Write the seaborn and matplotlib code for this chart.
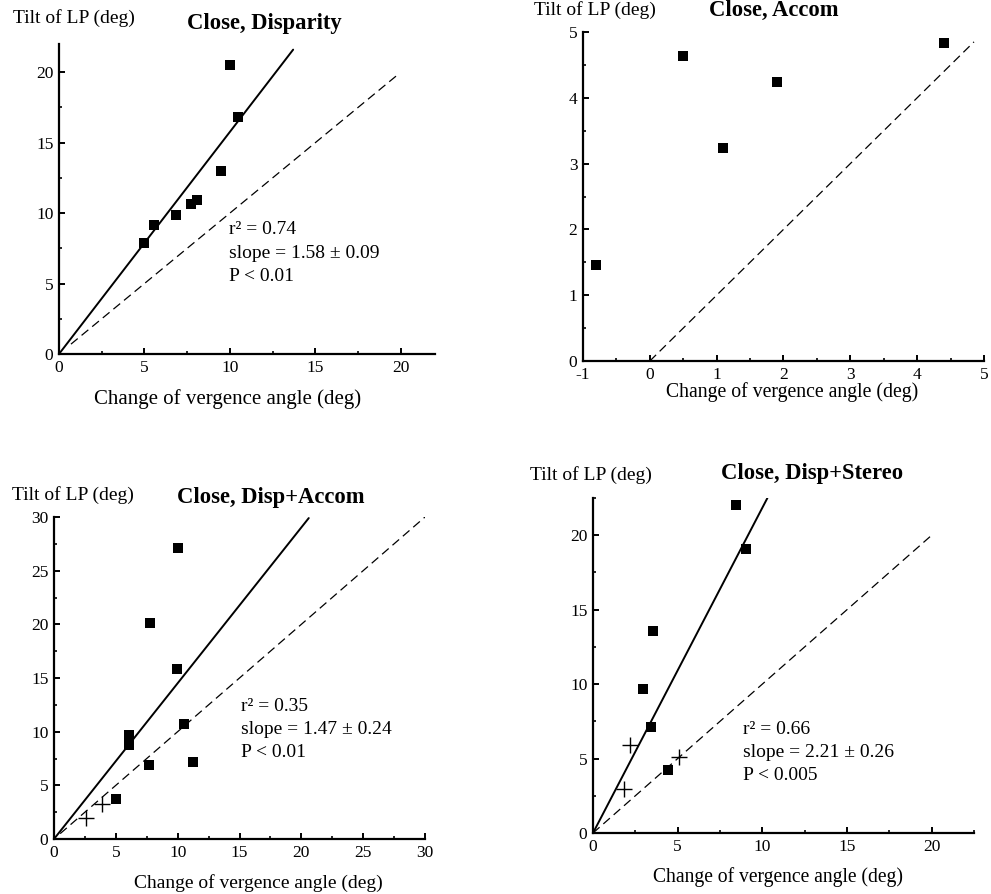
import matplotlib
matplotlib.use("Agg")
import matplotlib.pyplot as plt
from matplotlib.ticker import MultipleLocator
import seaborn as sns

# data
disp_x = [4.95, 5.55, 6.85, 7.75, 8.1, 9.5, 10.0, 10.5]
disp_y = [7.9, 9.15, 9.9, 10.65, 10.9, 13.0, 20.5, 16.85]
disp_fit_x = [0, 13.7]
disp_fit_y = [0, 21.6]
disp_unit = [0.7, 19.9]

accom_x = [-0.8, 0.5, 1.1, 1.9, 4.4]
accom_y = [1.46, 4.64, 3.24, 4.24, 4.84]
accom_unit = [0, 4.85]

dacc_x = [10.0, 7.8, 9.95, 6.05, 6.1, 10.55, 7.65, 11.2, 5.0]
dacc_y = [27.1, 20.1, 15.85, 9.65, 8.75, 10.7, 6.85, 7.15, 3.7]
dacc_cross_x = [2.6, 3.85]
dacc_cross_y = [1.95, 3.3]
dacc_fit_x = [0, 20.6]
dacc_fit_y = [0, 29.9]
dacc_unit = [0.5, 30]

dst_x = [8.45, 9.05, 3.55, 2.95, 3.45, 4.45]
dst_y = [22.05, 19.1, 13.55, 9.65, 7.15, 4.25]
dst_cross_x = [2.2, 1.85, 5.1]
dst_cross_y = [5.9, 2.95, 5.1]
dst_fit_x = [0, 10.3]
dst_fit_y = [0, 22.5]
dst_unit = [0, 20]

titles = ["Close, Disparity", "Close, Accom", "Close, Disp+Accom", "Close, Disp+Stereo"]
stats_disp = ["r\u00b2 = 0.74", "slope = 1.58 \u00b1 0.09", "P < 0.01"]
stats_dacc = ["r\u00b2 = 0.35", "slope = 1.47 \u00b1 0.24", "P < 0.01"]
stats_dst = ["r\u00b2 = 0.66", "slope = 2.21 \u00b1 0.26", "P < 0.005"]

sns.set_style("ticks")
plt.rcParams["font.family"] = ["Liberation Serif", "DejaVu Serif"]
plt.rcParams["axes.unicode_minus"] = False
plt.rcParams["text.color"] = "black"

W, H = 991, 894
fig = plt.figure(figsize=(W / 100, H / 100), dpi=100)


def px_axes(l, r, t, b):
    return fig.add_axes([l / W, 1 - b / H, (r - l) / W, (b - t) / H])


def px_text(x, y, s, **kw):
    fig.text(x / W, 1 - y / H, s, ha="center", va="center", **kw)


def style(ax, xlim, ylim, major, minor):
    ax.set_xlim(*xlim)
    ax.set_ylim(*ylim)
    ax.xaxis.set_major_locator(MultipleLocator(major))
    ax.yaxis.set_major_locator(MultipleLocator(major))
    ax.xaxis.set_minor_locator(MultipleLocator(minor))
    ax.yaxis.set_minor_locator(MultipleLocator(minor))
    for side in ["top", "right"]:
        ax.spines[side].set_visible(False)
    for side in ["left", "bottom"]:
        ax.spines[side].set_linewidth(1.6)
        ax.spines[side].set_color("black")
    ax.tick_params(which="major", direction="in", length=4, width=1.4,
                   labelsize=12.5, colors="black", pad=4)
    ax.tick_params(which="minor", direction="in", length=2, width=1.4)
    ax.set_xlabel("")
    ax.set_ylabel("")


def squares(ax, x, y):
    sns.scatterplot(x=x, y=y, ax=ax, marker="s", s=50, color="black",
                    edgecolor="black", linewidth=0)


def crosses(ax, x, y):
    sns.scatterplot(x=x, y=y, ax=ax, marker="+", s=140, color="black",
                    linewidth=1.0)


def fit_line(ax, x, y):
    sns.lineplot(x=x, y=y, ax=ax, color="black", linewidth=1.4)


def unit_line(ax, v):
    sns.lineplot(x=v, y=v, ax=ax, color="black", linewidth=0.9,
                 linestyle=(0, (7, 4)))


def stats(ax, x, ys, lines):
    for yy, s in zip(ys, lines):
        ax.text(x, yy, s, ha="left", va="center", fontsize=14)


# panel 1
ax1 = px_axes(59, 435, 44, 354)
fit_line(ax1, disp_fit_x, disp_fit_y)
unit_line(ax1, disp_unit)
squares(ax1, disp_x, disp_y)
style(ax1, (0, 22), (0, 22), 5, 2.5)
stats(ax1, 9.97, [8.8, 7.14, 5.5], stats_disp)
px_text(74, 18, "Tilt of LP (deg)", fontsize=14)
px_text(264, 23, titles[0], fontsize=16.3, fontweight="bold")
px_text(228, 399, "Change of vergence angle (deg)", fontsize=15)

# panel 2
ax2 = px_axes(583, 984, 32, 361)
unit_line(ax2, accom_unit)
squares(ax2, accom_x, accom_y)
style(ax2, (-1, 5), (0, 5), 1, 0.5)
px_text(595, 10, "Tilt of LP (deg)", fontsize=14)
px_text(774, 10, titles[1], fontsize=16.3, fontweight="bold")
px_text(792, 392, "Change of vergence angle (deg)", fontsize=14.2)

# panel 3
ax3 = px_axes(54, 425, 517, 839)
fit_line(ax3, dacc_fit_x, dacc_fit_y)
unit_line(ax3, dacc_unit)
squares(ax3, dacc_x, dacc_y)
crosses(ax3, dacc_cross_x, dacc_cross_y)
style(ax3, (0, 30), (0, 30), 5, 2.5)
stats(ax3, 15.15, [12.3, 10.2, 8.1], stats_dacc)
px_text(73, 495, "Tilt of LP (deg)", fontsize=14)
px_text(271, 498, titles[2], fontsize=16.3, fontweight="bold")
px_text(258, 883, "Change of vergence angle (deg)", fontsize=14)

# panel 4
ax4 = px_axes(593, 974, 498, 833)
fit_line(ax4, dst_fit_x, dst_fit_y)
unit_line(ax4, dst_unit)
squares(ax4, dst_x, dst_y)
crosses(ax4, dst_cross_x, dst_cross_y)
style(ax4, (0, 22.5), (0, 22.5), 5, 2.5)
stats(ax4, 8.85, [6.94, 5.42, 3.85], stats_dst)
px_text(591, 475, "Tilt of LP (deg)", fontsize=14)
px_text(812, 473, titles[3], fontsize=16.3, fontweight="bold")
px_text(778, 877, "Change of vergence angle (deg)", fontsize=14.1)

fig.savefig("out.png", dpi=100)
